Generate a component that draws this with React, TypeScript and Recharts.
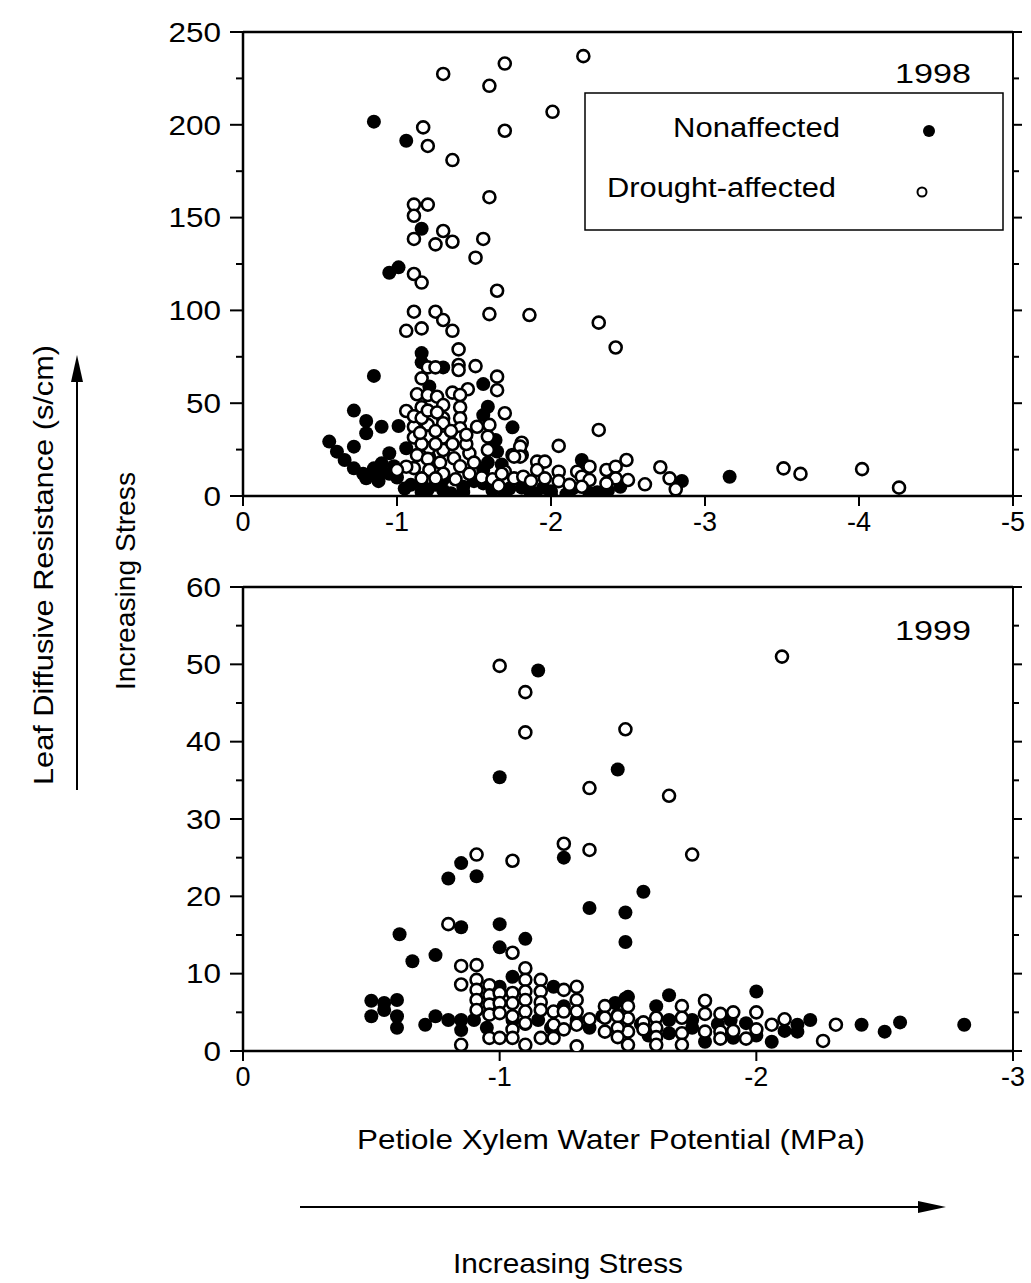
import React from 'react';
import { ScatterChart, Scatter, XAxis, YAxis, ReferenceLine } from 'recharts';

// [water potential (MPa), resistance (s/cm)]
const nonaffected1998: [number, number][] = [
  [-0.85, 201.7], [-1.06, 191.4], [-1.16, 144], [-0.95, 120.3], [-1.01, 123.2], [-1.16, 77], [-1.16, 72],
  [-1.3, 69.3], [-0.85, 64.7], [-1.56, 60.3], [-1.21, 59], [-1.59, 48.1], [-0.72, 46], [-1.56, 43.6],
  [-0.8, 40.4], [-0.9, 37.3], [-1.01, 37.7], [-1.75, 37], [-0.8, 33.8], [-1.64, 30.2], [-0.56, 29.3],
  [-0.72, 26.6], [-0.61, 23.9], [-0.66, 19.4], [-0.72, 14.9], [-1.06, 25.7], [-0.95, 23], [-0.9, 17.6],
  [-0.85, 14.9], [-0.8, 9.5], [-2.2, 19.4], [-2.85, 8.1], [-3.16, 10.4], [-0.78, 12], [-0.85, 11],
  [-0.9, 13], [-0.95, 12], [-0.98, 16], [-1.0, 10], [-0.88, 8], [-1.16, 6.8], [-1.09, 6], [-1.25, 6],
  [-1.43, 5], [-1.56, 14], [-1.59, 18], [-1.65, 24], [-1.68, 17], [-1.56, 6.8], [-1.73, 4], [-1.81, 4.5],
  [-2.0, 2.5], [-2.0, 0.5], [-2.14, 4], [-2.25, 1.5], [-2.37, 3], [-2.45, 5], [-1.16, 2], [-1.3, 3],
  [-1.43, 2], [-1.86, 3], [-1.95, 4.5], [-1.21, 21], [-1.3, 9], [-1.37, 30], [-1.5, 8], [-1.62, 3],
  [-1.9, 1.5], [-2.1, 1], [-2.3, 2], [-1.05, 4], [-1.2, 3.5], [-1.35, 1.5], [-1.7, 1.5],
];

const drought1998: [number, number][] = [
  [-1.3, 227.4], [-1.7, 233], [-2.21, 237], [-1.6, 221], [-2.01, 207], [-1.17, 198.6], [-1.7, 196.8],
  [-1.2, 188.6], [-1.36, 181], [-1.6, 161], [-1.11, 157], [-1.2, 157], [-1.11, 151], [-1.3, 142.8],
  [-1.11, 138.5], [-1.25, 135.6], [-1.36, 137], [-1.56, 138.5], [-1.51, 128.4], [-1.11, 119.6],
  [-1.16, 115], [-1.65, 110.6], [-1.11, 99.3], [-1.25, 99.3], [-1.3, 94.8], [-1.36, 89], [-1.06, 89],
  [-1.16, 90.3], [-1.6, 98], [-1.86, 97.5], [-2.31, 93.4], [-2.42, 80], [-1.4, 79], [-1.4, 70.6],
  [-1.4, 67.9], [-1.51, 70], [-1.2, 69.3], [-1.25, 69.3], [-1.65, 64.3], [-1.16, 63.4], [-1.65, 57],
  [-1.46, 57.5], [-1.36, 55.7], [-1.41, 54.4], [-1.13, 54.8], [-1.2, 54.4], [-1.26, 53.5], [-1.3, 49],
  [-1.41, 47.8], [-1.16, 47.8], [-1.06, 45.8], [-1.7, 44.6], [-1.41, 41.9], [-1.3, 41.9], [-1.11, 37.3],
  [-1.2, 38.3], [-1.3, 39.2], [-1.41, 36.5], [-1.52, 37.3], [-1.6, 38.3], [-1.11, 31.5], [-1.21, 32],
  [-1.3, 31.5], [-1.41, 31.5], [-1.59, 32], [-1.81, 28.7], [-2.05, 27], [-1.21, 25.7], [-1.3, 24.8],
  [-1.37, 20.3], [-1.47, 23], [-1.59, 24.8], [-1.75, 22.1], [-1.81, 22.1], [-1.91, 18.5], [-1.96, 18.5],
  [-2.05, 13.1], [-2.17, 13.1], [-2.25, 15.8], [-2.36, 14], [-2.42, 15.8], [-2.49, 19.4], [-1.8, 26.6],
  [-1.8, 21.2], [-1.76, 21.2], [-2.31, 35.6], [-2.71, 15.5], [-2.77, 9.5], [-2.81, 3.6], [-2.61, 6.3],
  [-3.51, 14.9], [-3.62, 11.9], [-4.02, 14.5], [-4.26, 4.5], [-2.2, 10.4], [-2.5, 8.6], [-2.42, 9.5],
  [-2.36, 6.8], [-2.25, 8.6], [-2.2, 5], [-1.91, 14], [-1.96, 9.5], [-1.7, 13.1], [-1.76, 9.5],
  [-1.82, 10.4], [-1.11, 43], [-1.16, 42], [-1.2, 46], [-1.26, 45], [-1.16, 28], [-1.25, 28],
  [-1.36, 28], [-1.45, 28], [-1.13, 22], [-1.2, 20], [-1.28, 18], [-1.41, 16], [-1.5, 18], [-1.11, 15],
  [-1.21, 14], [-1.3, 12], [-1.47, 12], [-1.55, 10], [-1.16, 9.5], [-1.25, 9.5], [-1.38, 9], [-1.62, 9],
  [-1.68, 12], [-1.06, 15.8], [-1.45, 33], [-1.35, 35], [-1.25, 35], [-1.15, 34], [-1.0, 14],
  [-1.87, 8], [-2.05, 8], [-2.12, 6], [-1.66, 5.5],
];

const nonaffected1999: [number, number][] = [
  [-1.15, 49.2], [-1.0, 35.4], [-1.46, 36.4], [-0.85, 24.3], [-0.8, 22.3], [-0.91, 22.6], [-1.25, 25],
  [-1.35, 18.5], [-1.49, 17.9], [-1.49, 14.1], [-1.56, 20.6], [-0.61, 15.1], [-0.85, 16], [-1.0, 16.4],
  [-1.0, 13.4], [-1.1, 14.5], [-0.66, 11.6], [-0.75, 12.4], [-1.05, 9.6], [-0.5, 6.5], [-0.5, 4.5],
  [-0.55, 6.2], [-0.6, 6.6], [-0.6, 4.5], [-0.6, 3], [-0.55, 5.3], [-0.71, 3.4], [-0.75, 4.5],
  [-0.8, 4], [-0.85, 4], [-0.85, 2.7], [-1.0, 8.3], [-1.21, 8.3], [-1.25, 5.8], [-1.45, 6.2],
  [-1.49, 6.8], [-1.46, 4.7], [-1.5, 7], [-1.61, 5.8], [-1.66, 7.2], [-1.66, 4], [-1.66, 2.3],
  [-1.75, 4], [-1.75, 3], [-1.8, 1.2], [-1.91, 1.7], [-1.96, 3.6], [-2.0, 7.7], [-2.0, 2],
  [-2.06, 1.2], [-2.11, 2.6], [-2.16, 3.4], [-2.16, 2.5], [-2.21, 4], [-2.41, 3.4], [-2.5, 2.5],
  [-2.56, 3.7], [-2.81, 3.4], [-0.9, 4], [-0.95, 3], [-1.05, 4], [-1.1, 3.5], [-1.15, 4], [-1.2, 3],
  [-1.3, 4], [-1.35, 3], [-1.4, 4.5], [-1.55, 3.5], [-1.85, 3.5], [-1.9, 4], [-1.58, 2],
];

const drought1999: [number, number][] = [
  [-1.0, 49.8], [-1.1, 46.4], [-1.1, 41.2], [-1.49, 41.6], [-1.35, 34], [-1.66, 33], [-2.1, 51],
  [-0.91, 25.4], [-1.05, 24.6], [-1.25, 26.8], [-1.35, 26], [-1.75, 25.4], [-0.8, 16.4], [-1.05, 12.7],
  [-0.85, 11], [-0.91, 11.1], [-1.1, 10.7], [-1.1, 9.2], [-1.16, 9.2], [-1.16, 7.7], [-0.85, 8.6],
  [-0.91, 9.2], [-0.91, 7.9], [-0.91, 6.6], [-0.91, 5.3], [-0.85, 0.8], [-0.96, 8.5], [-0.96, 7.2],
  [-0.96, 6], [-0.96, 4.7], [-0.96, 1.7], [-1.0, 7.5], [-1.0, 6.2], [-1.0, 4.9], [-1.0, 1.7],
  [-1.05, 7.5], [-1.05, 6.2], [-1.05, 4.5], [-1.05, 2.8], [-1.05, 1.7], [-1.1, 7.7], [-1.1, 6.6],
  [-1.1, 5.1], [-1.1, 3.6], [-1.1, 0.8], [-1.16, 6.3], [-1.16, 5.3], [-1.16, 1.7], [-1.25, 7.9],
  [-1.3, 8.3], [-1.3, 6.6], [-1.3, 5.1], [-1.3, 3.4], [-1.3, 0.6], [-1.21, 5.1], [-1.21, 3.4],
  [-1.21, 1.7], [-1.25, 5.1], [-1.25, 2.8], [-1.35, 4.1], [-1.41, 5.8], [-1.41, 4.3], [-1.41, 2.5],
  [-1.5, 5.8], [-1.5, 4.2], [-1.5, 2.5], [-1.5, 0.8], [-1.46, 4.5], [-1.46, 3], [-1.46, 1.8],
  [-1.56, 3.7], [-1.56, 2.8], [-1.61, 4.3], [-1.61, 3], [-1.61, 1.8], [-1.61, 0.8], [-1.71, 5.8],
  [-1.71, 4.3], [-1.71, 2.3], [-1.71, 0.8], [-1.8, 6.5], [-1.8, 4.8], [-1.8, 2.5], [-1.86, 4.8],
  [-1.86, 2.5], [-1.86, 1.6], [-1.91, 5], [-1.91, 2.6], [-1.96, 1.6], [-2.0, 5], [-2.0, 2.8],
  [-2.06, 3.4], [-2.11, 4.1], [-2.31, 3.4], [-2.26, 1.3],
];

const xTicks1998 = [0, -1, -2, -3, -4, -5];
const yTicks1998 = [0, 25, 50, 75, 100, 125, 150, 175, 200, 225, 250];
const xTicks1999 = [0, -1, -2, -3];
const yTicks1999 = [0, 5, 10, 15, 20, 25, 30, 35, 40, 45, 50, 55, 60];

const FONT = '"Liberation Sans", Arial, Helvetica, sans-serif';

const toPoints = (arr: [number, number][]) => arr.map(([x, y]) => ({ x, y }));

const FilledDot = (props: any) => <circle cx={props.cx} cy={props.cy} r={7} fill="#000" />;
const OpenDot = (props: any) => (
  <circle cx={props.cx} cy={props.cy} r={6} fill="#fff" stroke="#000" strokeWidth={2.6} />
);

const leftTick = (major: number) => (props: any) => {
  const { x, y, payload } = props;
  const isMajor = payload.value % major === 0;
  const label = String(payload.value);
  return (
    <g>
      <line x1={x - (isMajor ? 13 : 7)} x2={x} y1={y} y2={y} stroke="#000" strokeWidth={2} />
      {isMajor && (
        <text
          x={x - 22}
          y={y}
          dy="0.36em"
          textAnchor="end"
          fontSize={27}
          fill="#000"
          fontFamily={FONT}
          textLength={label.length * 17.5}
          lengthAdjust="spacingAndGlyphs"
        >
          {label}
        </text>
      )}
    </g>
  );
};

const rightTick = (major: number) => (props: any) => {
  const { x, y, payload } = props;
  const isMajor = payload.value % major === 0;
  return <line x1={x} x2={x + (isMajor ? 9 : 6)} y1={y} y2={y} stroke="#000" strokeWidth={2} />;
};

const bottomTick = (props: any) => {
  const { x, y, payload } = props;
  return (
    <g>
      <line x1={x} x2={x} y1={y} y2={y + 10} stroke="#000" strokeWidth={2} />
      <text x={x} y={y + 25} dy="0.36em" textAnchor="middle" fontSize={27} fill="#000" fontFamily={FONT}>
        {payload.value === 0 ? '0' : `-${Math.abs(payload.value)}`}
      </text>
    </g>
  );
};

interface PanelProps {
  top: number;
  xMax: number;
  yMax: number;
  xTicks: number[];
  yTicks: number[];
  major: number;
  filled: [number, number][];
  open: [number, number][];
}

const Panel: React.FC<PanelProps> = ({ top, xMax, yMax, xTicks, yTicks, major, filled, open }) => (
  <div style={{ position: 'absolute', left: 0, top, width: 1031, height: 562 }}>
    <ScatterChart width={1031} height={562} margin={{ top: 32, right: 17, bottom: 65, left: 242 }}>
      <XAxis
        type="number"
        dataKey="x"
        domain={[xMax, 0]}
        reversed
        ticks={xTicks}
        interval={0}
        height={1}
        tickSize={0}
        tickMargin={0}
        tickLine={false}
        tick={bottomTick}
        axisLine={{ stroke: '#000', strokeWidth: 2.5 }}
        allowDataOverflow
      />
      <YAxis
        type="number"
        dataKey="y"
        domain={[0, yMax]}
        ticks={yTicks}
        interval={0}
        width={1}
        tickSize={0}
        tickMargin={0}
        tickLine={false}
        tick={leftTick(major)}
        axisLine={{ stroke: '#000', strokeWidth: 2.5 }}
        allowDataOverflow
      />
      <YAxis
        yAxisId="r"
        orientation="right"
        type="number"
        domain={[0, yMax]}
        ticks={yTicks}
        interval={0}
        width={1}
        tickSize={0}
        tickMargin={0}
        tickLine={false}
        tick={rightTick(major)}
        axisLine={{ stroke: '#000', strokeWidth: 2 }}
        allowDataOverflow
      />
      <ReferenceLine y={yMax} stroke="#000" strokeWidth={2.5} ifOverflow="visible" />
      <Scatter data={toPoints(filled)} shape={FilledDot} isAnimationActive={false} />
      <Scatter data={toPoints(open)} shape={OpenDot} isAnimationActive={false} />
    </ScatterChart>
  </div>
);

export default function App() {
  return (
    <div
      style={{
        position: 'absolute',
        left: 0,
        top: 0,
        width: 1031,
        height: 1283,
        background: '#fff',
        fontFamily: FONT,
        overflow: 'hidden',
      }}
    >
      <Panel
        top={0}
        xMax={-5}
        yMax={250}
        xTicks={xTicks1998}
        yTicks={yTicks1998}
        major={50}
        filled={nonaffected1998}
        open={drought1998}
      />
      <Panel
        top={555}
        xMax={-3}
        yMax={60}
        xTicks={xTicks1999}
        yTicks={yTicks1999}
        major={10}
        filled={nonaffected1999}
        open={drought1999}
      />
      <svg
        width={1031}
        height={1283}
        style={{ position: 'absolute', left: 0, top: 0, pointerEvents: 'none' }}
        fontFamily={FONT}
      >
        {/* legend */}
        <rect x={585} y={93} width={418} height={137} fill="#fff" stroke="#000" strokeWidth={1.5} />
        <text x={673} y={137} fontSize={27} textLength={167} lengthAdjust="spacingAndGlyphs">Nonaffected</text>
        <circle cx={929} cy={131} r={6} fill="#000" />
        <text x={607} y={197} fontSize={27} textLength={229} lengthAdjust="spacingAndGlyphs">Drought-affected</text>
        <circle cx={922} cy={192} r={4.5} fill="#fff" stroke="#000" strokeWidth={2} />

        <text x={895} y={83} fontSize={27} textLength={76} lengthAdjust="spacingAndGlyphs">1998</text>
        <text x={895} y={640} fontSize={27} textLength={76} lengthAdjust="spacingAndGlyphs">1999</text>

        {/* left titles and arrow */}
        <text
          transform="translate(53,565) rotate(-90)"
          textAnchor="middle"
          fontSize={28}
          textLength={440}
          lengthAdjust="spacingAndGlyphs"
        >
          Leaf Diffusive Resistance (s/cm)
        </text>
        <line x1={77} x2={77} y1={375} y2={790} stroke="#000" strokeWidth={2} />
        <polygon points="77,355 71,382 83,382" fill="#000" />
        <text
          transform="translate(135,581) rotate(-90)"
          textAnchor="middle"
          fontSize={28}
          textLength={218}
          lengthAdjust="spacingAndGlyphs"
        >
          Increasing Stress
        </text>

        {/* bottom titles and arrow */}
        <text x={611} y={1149} textAnchor="middle" fontSize={28} textLength={508} lengthAdjust="spacingAndGlyphs">
          Petiole Xylem Water Potential (MPa)
        </text>
        <line x1={300} x2={925} y1={1207} y2={1207} stroke="#000" strokeWidth={2} />
        <polygon points="946,1207 918,1201 918,1213" fill="#000" />
        <text x={568} y={1273} textAnchor="middle" fontSize={28} textLength={230} lengthAdjust="spacingAndGlyphs">
          Increasing Stress
        </text>
      </svg>
    </div>
  );
}
